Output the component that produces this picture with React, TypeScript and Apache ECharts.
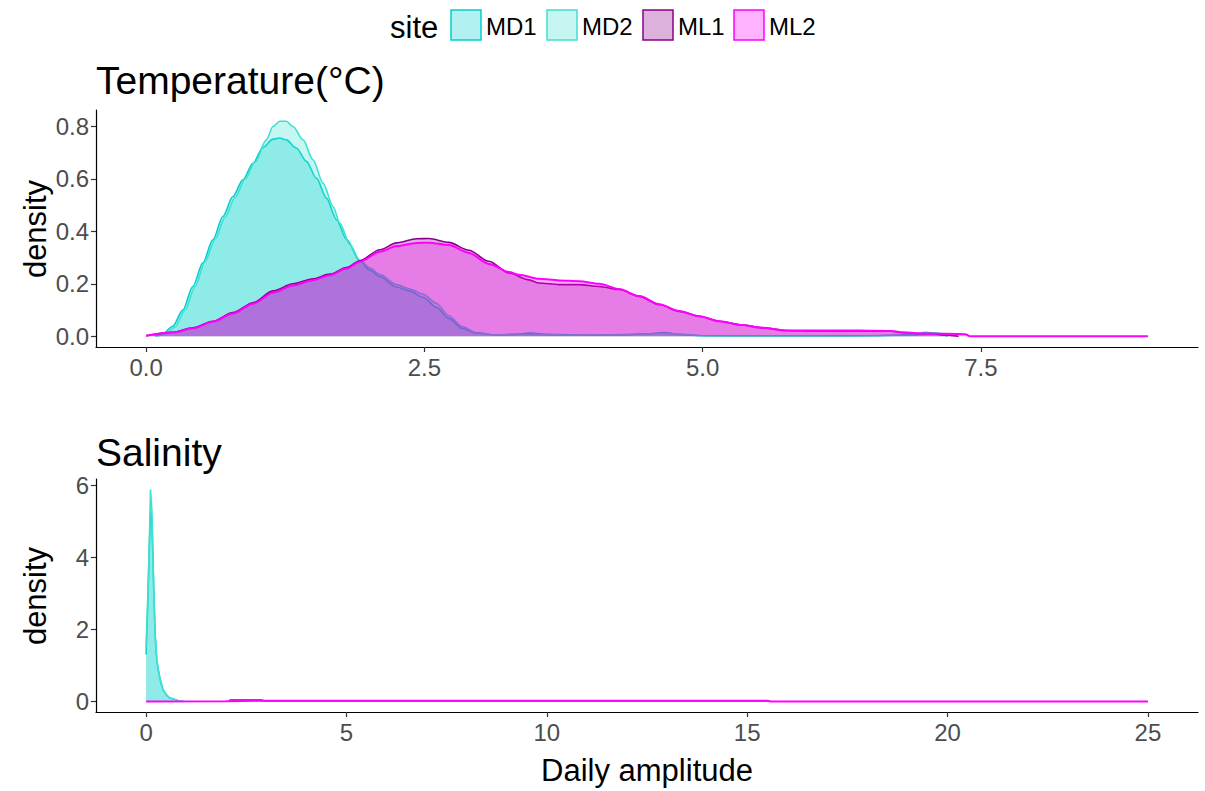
import React, { useEffect, useRef } from "react";
import * as echarts from "echarts";

const sites = ["MD1", "MD2", "ML1", "ML2"];
const lineColors = ["#00CED1", "#40E0D0", "#8B008B", "#FF00FF"];
const fillColors = ["rgba(0,206,209,0.3)", "rgba(64,224,208,0.3)", "rgba(139,0,139,0.3)", "rgba(255,0,255,0.3)"];

const tempTicks = [0, 2.5, 5, 7.5];
const tempDensityTicks = [0, 0.2, 0.4, 0.6, 0.8];
const salTicks = [0, 5, 10, 15, 20, 25];
const salDensityTicks = [0, 2, 4, 6];

// Temperature daily amplitude densities [x, density]
const tempMD1 = [
  [0.08, 0], [0.15, 0.01], [0.24, 0.038], [0.33, 0.1], [0.42, 0.19], [0.51, 0.28], [0.6, 0.368],
  [0.69, 0.457], [0.78, 0.533], [0.87, 0.597], [0.96, 0.66], [1.05, 0.72], [1.14, 0.752], [1.2, 0.756],
  [1.26, 0.749], [1.35, 0.718], [1.44, 0.667], [1.53, 0.603], [1.62, 0.527], [1.71, 0.445], [1.8, 0.37],
  [1.92, 0.286], [2.01, 0.252], [2.1, 0.227], [2.25, 0.188], [2.37, 0.172], [2.49, 0.148], [2.61, 0.11],
  [2.72, 0.068], [2.84, 0.03], [2.96, 0.012], [3.14, 0.005], [3.3, 0.006], [3.45, 0.012], [3.6, 0.007],
  [3.8, 0.005], [4.0, 0.004], [4.3, 0.006], [4.5, 0.009], [4.65, 0.014], [4.8, 0.007], [5.0, 0.002],
  [5.5, 0.001], [6.0, 0.001], [6.5, 0.002], [6.9, 0.006], [7.0, 0.015], [7.1, 0.012], [7.2, 0],
];
const tempMD2 = [
  [0.1, 0], [0.18, 0.01], [0.26, 0.035], [0.35, 0.1], [0.44, 0.19], [0.53, 0.285], [0.62, 0.37],
  [0.71, 0.455], [0.8, 0.53], [0.89, 0.6], [0.98, 0.665], [1.08, 0.749], [1.14, 0.8], [1.2, 0.82],
  [1.26, 0.82], [1.32, 0.8], [1.41, 0.749], [1.5, 0.673], [1.59, 0.584], [1.68, 0.495], [1.74, 0.432],
  [1.83, 0.35], [1.92, 0.29], [2.01, 0.26], [2.1, 0.235], [2.25, 0.197], [2.37, 0.18], [2.49, 0.16],
  [2.61, 0.125], [2.72, 0.078], [2.84, 0.037], [2.96, 0.014], [3.14, 0.005], [3.3, 0.008], [3.5, 0.006],
  [3.8, 0.004], [4.2, 0.005], [4.5, 0.008], [4.65, 0.012], [4.8, 0.006], [5.0, 0.002], [5.6, 0.001],
  [6.3, 0.001], [6.9, 0.004], [7.0, 0.012], [7.15, 0.01], [7.2, 0],
];
const tempML1 = [
  [0, 0.002], [0.24, 0.015], [0.42, 0.032], [0.6, 0.057], [0.78, 0.09], [0.96, 0.128], [1.14, 0.173],
  [1.32, 0.2], [1.5, 0.219], [1.65, 0.237], [1.8, 0.262], [1.92, 0.288], [2.1, 0.33], [2.25, 0.356],
  [2.43, 0.372], [2.54, 0.373], [2.72, 0.358], [2.9, 0.328], [3.08, 0.286], [3.26, 0.241], [3.44, 0.215],
  [3.53, 0.203], [3.71, 0.197], [3.89, 0.197], [4.07, 0.19], [4.25, 0.178], [4.43, 0.152], [4.61, 0.121],
  [4.79, 0.095], [4.97, 0.076], [5.15, 0.057], [5.35, 0.043], [5.54, 0.032], [5.75, 0.022], [6.0, 0.02],
  [6.4, 0.02], [6.7, 0.019], [6.8, 0.013], [6.97, 0.01], [7.06, 0.01], [7.15, 0.005], [7.3, 0],
];
const tempML2 = [
  [0, 0.002], [0.24, 0.014], [0.42, 0.03], [0.6, 0.055], [0.78, 0.087], [0.96, 0.124], [1.14, 0.166],
  [1.32, 0.194], [1.5, 0.214], [1.65, 0.233], [1.8, 0.258], [1.92, 0.284], [2.1, 0.322], [2.25, 0.344],
  [2.43, 0.356], [2.54, 0.357], [2.72, 0.348], [2.9, 0.318], [3.08, 0.276], [3.26, 0.245], [3.35, 0.235],
  [3.53, 0.219], [3.71, 0.213], [3.89, 0.21], [4.07, 0.2], [4.25, 0.18], [4.43, 0.153], [4.61, 0.122],
  [4.79, 0.096], [4.97, 0.076], [5.15, 0.057], [5.35, 0.043], [5.54, 0.032], [5.75, 0.022], [6.0, 0.022],
  [6.4, 0.022], [6.7, 0.02], [6.8, 0.015], [7.0, 0.01], [7.36, 0.008], [7.4, 0], [8.0, 0], [9.0, 0],
];

// Salinity daily amplitude densities [x, density]
const salMD1 = [
  [0, 1.3], [0.045, 2.8], [0.087, 4.5], [0.11, 5.3], [0.145, 5.0], [0.17, 4.0], [0.195, 2.9],
  [0.23, 1.8], [0.27, 1.1], [0.31, 0.85], [0.35, 0.6], [0.42, 0.33], [0.5, 0.19], [0.58, 0.1],
  [0.71, 0.05], [0.83, 0.01], [0.9, 0],
];
const salMD2 = [
  [0, 1.5], [0.045, 3.0], [0.087, 4.7], [0.11, 5.88], [0.145, 5.3], [0.17, 4.15], [0.195, 2.95],
  [0.23, 1.75], [0.27, 1.12], [0.31, 0.84], [0.35, 0.62], [0.42, 0.33], [0.5, 0.2], [0.58, 0.11],
  [0.71, 0.06], [0.83, 0.01], [0.95, 0],
];
const salML1 = [
  [2.08, 0.04], [2.87, 0.04], [2.95, 0.02], [15.5, 0.02],
];
const salML2 = [
  [0, 0], [2.0, 0.004], [2.9, 0.02], [15.5, 0.02], [15.6, 0], [25, 0],
];

const tempData = [tempMD1, tempMD2, tempML1, tempML2];
const salData = [salMD1, salMD2, salML1, salML2];

const FONT = "Liberation Sans, Arial, sans-serif";

function axisCommon(ticks: number[], fmt: (v: number) => string, isX: boolean) {
  return {
    type: "value",
    splitLine: { show: false },
    axisLine: { show: true, onZero: false, lineStyle: { color: "#000", width: 1.2 } },
    axisTick: { show: true, customValues: ticks, length: 5, lineStyle: { color: "#333", width: 1.2 } },
    axisLabel: {
      show: true,
      customValues: ticks,
      formatter: (v: number) => fmt(v),
      color: "#4D4D4D",
      fontSize: 24,
      fontFamily: FONT,
      margin: isX ? 8 : 7,
    },
  };
}

function buildSeries(data: number[][][], idx: number) {
  return data.map((d, i) => ({
    name: sites[i],
    type: "line",
    xAxisIndex: idx,
    yAxisIndex: idx,
    data: d,
    showSymbol: false,
    symbol: "none",
    smooth: idx === 0 ? 0.3 : false,
    smoothMonotone: "x",
    lineStyle: { color: lineColors[i], width: i === 3 ? 2 : 1.6 },
    itemStyle: { color: lineColors[i] },
    areaStyle: { color: fillColors[i], opacity: 1 },
    z: 2 + i,
  }));
}

export default function App() {
  const ref = useRef<HTMLDivElement>(null);
  useEffect(() => {
    if (!ref.current) return;
    const chart = echarts.init(ref.current, null, { renderer: "svg" });
    const legendX = [451, 547, 643, 734];
    const graphics: any[] = [
      {
        type: "text", x: 390, y: 27,
        style: { text: "site", fontSize: 31, fontFamily: FONT, fill: "#000", align: "left", verticalAlign: "middle" },
      },
      {
        type: "text", x: 96, y: 80,
        style: { text: "Temperature(°C)", fontSize: 39, fontFamily: FONT, fill: "#000", align: "left", verticalAlign: "middle" },
      },
      {
        type: "text", x: 96, y: 452,
        style: { text: "Salinity", fontSize: 39, fontFamily: FONT, fill: "#000", align: "left", verticalAlign: "middle" },
      },
      {
        type: "text", x: 35, y: 229, rotation: Math.PI / 2,
        style: { text: "density", fontSize: 31, fontFamily: FONT, fill: "#000", align: "center", verticalAlign: "middle" },
      },
      {
        type: "text", x: 35, y: 596, rotation: Math.PI / 2,
        style: { text: "density", fontSize: 31, fontFamily: FONT, fill: "#000", align: "center", verticalAlign: "middle" },
      },
      {
        type: "text", x: 647, y: 770,
        style: { text: "Daily amplitude", fontSize: 31, fontFamily: FONT, fill: "#000", align: "center", verticalAlign: "middle" },
      },
    ];
    sites.forEach((s, i) => {
      graphics.push({
        type: "rect",
        shape: { x: legendX[i], y: 10, width: 30, height: 30 },
        style: { fill: fillColors[i], stroke: lineColors[i], lineWidth: 1.5 },
      });
      graphics.push({
        type: "text", x: legendX[i] + 35, y: 26,
        style: { text: s, fontSize: 24, fontFamily: FONT, fill: "#000", align: "left", verticalAlign: "middle" },
      });
    });

    const option: any = {
      animation: false,
      backgroundColor: "#fff",
      grid: [
        { left: 96, right: 7, top: 110, height: 237 },
        { left: 96, right: 7, top: 479, height: 233 },
      ],
      xAxis: [
        { ...axisCommon(tempTicks, (v) => v.toFixed(1), true), gridIndex: 0, min: -0.45, max: 9.45 },
        { ...axisCommon(salTicks, (v) => String(v), true), gridIndex: 1, min: -1.25, max: 26.25 },
      ],
      yAxis: [
        { ...axisCommon(tempDensityTicks, (v) => v.toFixed(1), false), gridIndex: 0, min: -0.0411, max: 0.8631 },
        { ...axisCommon(salDensityTicks, (v) => String(v), false), gridIndex: 1, min: -0.294, max: 6.174 },
      ],
      series: [...buildSeries(tempData, 0), ...buildSeries(salData, 1)],
      graphic: graphics,
    };
    chart.setOption(option);
    return () => chart.dispose();
  }, []);
  return (
    <div
      ref={ref}
      style={{ position: "fixed", left: 0, top: 0, width: 1205, height: 791, background: "#fff" }}
    />
  );
}
